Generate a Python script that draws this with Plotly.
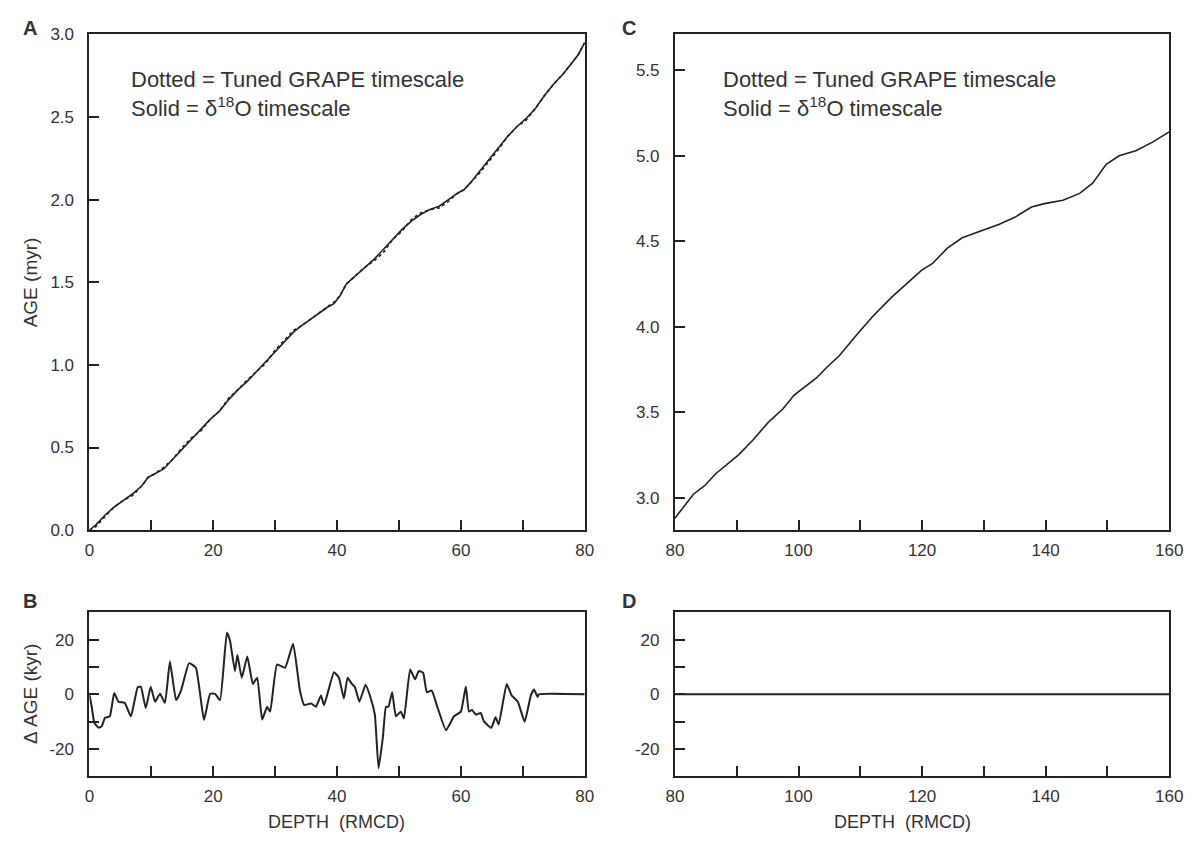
import plotly.graph_objects as go

W, H = 1195, 852

# ---- data ----
# Panel A: age model 0-80 m (delta-18O timescale, solid) and tuned GRAPE timescale (dotted)
depth_a = [0, 1, 2.5, 4, 5.5, 7, 8.5, 9.5, 10.5, 12, 13.5, 15, 16.5, 18, 19.5, 21, 22.5, 24,
           25.5, 27, 28.5, 30, 31.5, 33, 34, 35.5, 37, 38.5, 39.5, 40.5, 41.5, 43, 44.5, 46,
           47.5, 49, 50.5, 52, 53.5, 55, 56.5, 58, 59.5, 60.5, 61.5, 63, 64.5, 66, 67.5, 69,
           70.5, 72, 73.5, 75, 76.5, 78, 79, 80]
age_o18_a = [0, 0.03, 0.09, 0.14, 0.18, 0.22, 0.27, 0.32, 0.34, 0.37, 0.43, 0.49, 0.55, 0.61,
             0.67, 0.72, 0.79, 0.85, 0.90, 0.96, 1.02, 1.08, 1.14, 1.20, 1.23, 1.27, 1.31, 1.35,
             1.37, 1.42, 1.49, 1.54, 1.59, 1.64, 1.70, 1.76, 1.82, 1.87, 1.91, 1.94, 1.96, 2.00,
             2.04, 2.06, 2.10, 2.17, 2.24, 2.31, 2.38, 2.44, 2.49, 2.55, 2.63, 2.70, 2.76, 2.83,
             2.88, 2.95]
age_grape_a = [0, 0.02, 0.08, 0.14, 0.18, 0.21, 0.27, 0.32, 0.34, 0.38, 0.43, 0.50, 0.56, 0.60,
               0.67, 0.72, 0.80, 0.85, 0.91, 0.96, 1.01, 1.09, 1.15, 1.21, 1.23, 1.27, 1.31, 1.35,
               1.38, 1.42, 1.49, 1.54, 1.59, 1.63, 1.68, 1.76, 1.81, 1.88, 1.92, 1.94, 1.95, 1.99,
               2.04, 2.06, 2.10, 2.16, 2.23, 2.30, 2.38, 2.44, 2.48, 2.55, 2.63, 2.70, 2.76, 2.83,
               2.88, 2.95]

# Panel B: age difference between the two timescales (kyr)
depth_b = [0, 0.4, 0.8, 1.5, 2.0, 2.5, 3.3, 4.0, 4.7, 5.7, 6.7, 7.8, 8.3, 9.1, 9.9, 10.6, 11.4,
           12.2, 13.0, 14.0, 14.8, 16.1, 17.2, 18.5, 19.5, 20.3, 21.1, 22.2, 22.7, 23.5, 23.9,
           24.6, 25.5, 26.4, 27.1, 27.9, 28.7, 29.2, 30.3, 31.6, 32.9, 34.0, 34.7, 35.8, 36.6,
           37.4, 37.9, 39.5, 40.3, 41.1, 41.7, 42.4, 42.9, 43.6, 44.6, 45.3, 46.1, 46.7, 47.4,
           47.9, 48.3, 48.9, 49.5, 50.3, 50.8, 51.8, 52.6, 53.2, 53.9, 54.5, 55.3, 56.1, 57.6,
           58.9, 60.0, 60.8, 61.3, 61.8, 62.4, 63.2, 63.7, 64.9, 65.6, 66.1, 67.4, 68.2, 69.2,
           70.3, 71.3, 71.8, 72.4, 72.6, 80]
delta_b = [0, -5, -10.4, -12.2, -11.6, -8.6, -8, 0.5, -2.7, -3.1, -8, 2.6, 2.8, -5, 2.8, -2.7,
           0.2, -3.1, 12.0, -2.1, 1.4, 11.4, 9.7, -9.4, 0.2, 0.2, -2.1, 22.5, 19.7, 8.5, 14.4,
           6.1, 13.8, 3.8, 6.1, -9.2, -4.5, -6.3, 10.9, 9.7, 18.5, 1.4, -3.9, -3.3, -4.5, -0.4,
           -3.9, 8.1, 6.1, -1.5, 6.1, 3.8, 2.6, -2.7, 3.5, -0.4, -7.4, -27, -15.7, -4.5, -4.5,
           0.8, -8, -6.3, -8.8, 9.1, 5.5, 8.5, 7.9, 0.8, 1.4, -3.9, -13.1, -8.0, -6.3, 2.9,
           -6.3, -5.7, -7.4, -6.8, -9.8, -12.2, -8.4, -11, 3.8, -0.4, -2.7, -10.0, -0.4, 1.8,
           -0.9, 0, 0]

# Panel C: age model 80-160 m
depth_c = [80, 83, 84.8, 86.6, 90.3, 92.7, 95.1, 97.5, 99.3, 102.9, 104.8, 106.6, 109.6, 112,
           115, 117.5, 119.9, 121.7, 124.1, 126.5, 129.5, 132.5, 135, 137.7, 139.8, 142.8,
           145.5, 147.6, 149.8, 151.9, 154.6, 157.3, 160]
age_c = [2.88, 3.02, 3.07, 3.14, 3.25, 3.34, 3.44, 3.52, 3.60, 3.70, 3.77, 3.83, 3.96, 4.06,
         4.17, 4.25, 4.33, 4.37, 4.46, 4.52, 4.56, 4.60, 4.64, 4.70, 4.72, 4.74, 4.78, 4.84,
         4.95, 5.00, 5.03, 5.08, 5.14]

# Panel D: age difference 80-160 m (kyr)
depth_d = [80, 160]
delta_d = [0, 0]

# tick values / labels
ticks_a_x = [0, 10, 20, 30, 40, 50, 60, 70, 80]
labels_a_x = ["0", "", "20", "", "40", "", "60", "", "80"]
ticks_c_x = [80, 90, 100, 110, 120, 130, 140, 150, 160]
labels_c_x = ["80", "", "100", "", "120", "", "140", "", "160"]
ticks_age_a = [0.0, 0.5, 1.0, 1.5, 2.0, 2.5, 3.0]
ticks_age_c = [3.0, 3.5, 4.0, 4.5, 5.0, 5.5]
ticks_delta = [-20, -10, 0, 10, 20]
labels_delta = ["-20", "", "0", "", "20"]

# ---- layout helpers (pixel boxes -> paper fractions) ----
def xdom(x0, x1):
    return [x0 / W, x1 / W]

def ydom(top, bottom):
    return [1 - bottom / H, 1 - top / H]

FONT = "Liberation Sans, Arial, sans-serif"
INK = "#222222"
TXT = "#333333"

fig = go.Figure()

line_solid = dict(color=INK, width=1.6)

fig.add_trace(go.Scatter(x=depth_a, y=age_grape_a, mode="lines",
                         line=dict(color=INK, width=1.6, dash="dot"),
                         xaxis="x", yaxis="y", showlegend=False))
fig.add_trace(go.Scatter(x=depth_a, y=age_o18_a, mode="lines", line=line_solid,
                         xaxis="x", yaxis="y", showlegend=False))
fig.add_trace(go.Scatter(x=depth_b, y=delta_b, mode="lines",
                         line=dict(color=INK, width=2.0, shape="spline", smoothing=0.4),
                         xaxis="x2", yaxis="y2", showlegend=False))
fig.add_trace(go.Scatter(x=depth_c, y=age_c, mode="lines", line=line_solid,
                         xaxis="x3", yaxis="y3", showlegend=False))
fig.add_trace(go.Scatter(x=depth_d, y=delta_d, mode="lines",
                         line=dict(color=INK, width=2.0),
                         xaxis="x4", yaxis="y4", showlegend=False))

def axis(dom, rng, tickvals, ticktext, anchor, standoff):
    return dict(domain=dom, range=rng, tickmode="array", tickvals=tickvals,
                ticktext=ticktext, ticks="inside", ticklen=10, tickwidth=1.8,
                tickcolor=INK, showline=True, linecolor=INK, linewidth=2,
                mirror=True, showgrid=False, zeroline=False, anchor=anchor,
                ticklabelstandoff=standoff,
                tickfont=dict(family=FONT, size=17, color=TXT))

AX, CX = (82, 587), (679, 1183)
TOP_Y, BOT_Y = (26, 533), (617, 785)

fig.update_layout(
    width=W, height=H,
    margin=dict(l=0, r=0, t=0, b=0),
    paper_bgcolor="white", plot_bgcolor="white",
    xaxis=axis(xdom(*AX), [0, 80], ticks_a_x, labels_a_x, "y", 3),
    yaxis=axis(ydom(*TOP_Y), [0, 3.0], ticks_age_a, [f"{v:.1f}" for v in ticks_age_a], "x", 10),
    xaxis2=axis(xdom(*AX), [0, 80], ticks_a_x, labels_a_x, "y2", 3),
    yaxis2=axis(ydom(*BOT_Y), [-30, 30], ticks_delta, labels_delta, "x2", 10),
    xaxis3=axis(xdom(*CX), [80, 160], ticks_c_x, labels_c_x, "y3", 3),
    yaxis3=axis(ydom(*TOP_Y), [2.81, 5.71], ticks_age_c, [f"{v:.1f}" for v in ticks_age_c], "x3", 10),
    xaxis4=axis(xdom(*CX), [80, 160], ticks_c_x, labels_c_x, "y4", 3),
    yaxis4=axis(ydom(*BOT_Y), [-30, 30], ticks_delta, labels_delta, "x4", 10),
)

def px_note(text, x, y, size, **kw):
    fig.add_annotation(text=text, x=x / W, y=1 - y / H, xref="paper", yref="paper",
                       showarrow=False, font=dict(family=FONT, size=size, color=TXT), **kw)

# panel letters
for letter, (lx, ly) in {"A": (21, 19), "B": (21, 606), "C": (632, 19), "D": (632, 606)}.items():
    px_note(f"<b>{letter}</b>", lx, ly, 20, xanchor="center", yanchor="middle")

# timescale key in panels A and C
for x0 in (122, 726):
    px_note("Dotted = Tuned GRAPE timescale", x0, 72, 22, xanchor="left", yanchor="middle")
    px_note("Solid = δ<sup>18</sup>O timescale", x0, 100, 22, xanchor="left", yanchor="middle")

# axis titles
px_note("AGE (myr)", 22, 280, 19, textangle=-90, xanchor="center", yanchor="middle")
px_note("Δ AGE (kyr)", 22, 701, 19, textangle=-90, xanchor="center", yanchor="middle")
px_note("DEPTH  (RMCD)", 334, 832, 18, xanchor="center", yanchor="middle")
px_note("DEPTH  (RMCD)", 911, 832, 18, xanchor="center", yanchor="middle")

fig.write_html("out.html")
